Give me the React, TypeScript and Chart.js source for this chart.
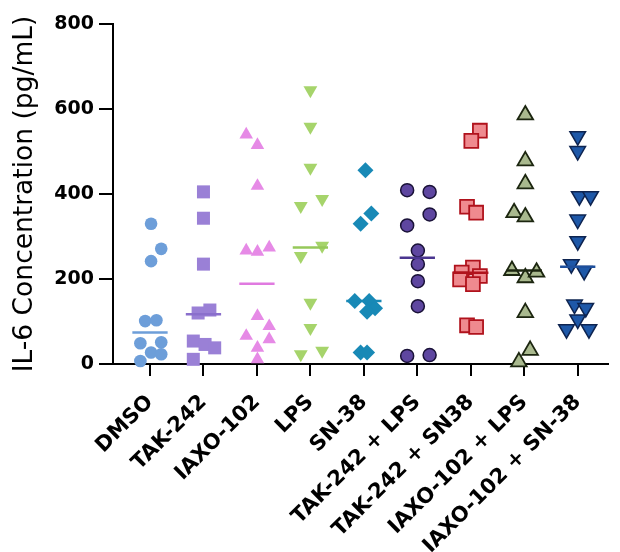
import React, { useEffect, useRef } from "react";
import { Chart, registerables } from "chart.js";

Chart.register(...registerables);

const CATEGORIES = [
  "DMSO",
  "TAK-242",
  "IAXO-102",
  "LPS",
  "SN-38",
  "TAK-242 + LPS",
  "TAK-242 + SN38",
  "IAXO-102 + LPS",
  "IAXO-102 + SN-38",
];

const Y_TICKS = [0, 200, 400, 600, 800];

// values (pg/mL) and horizontal jitter (in category units)
const DMSO_VALUES = [330, 271, 242, 101, 103, 49, 51, 27, 23, 7];
const DMSO_JITTER = [0.02, 0.21, 0.02, -0.09, 0.12, -0.18, 0.21, 0.02, 0.21, -0.18];

const TAK_VALUES = [405, 343, 235, 120, 127, 54, 46, 38, 11];
const TAK_JITTER = [0, 0, 0, -0.1, 0.12, -0.19, 0.03, 0.21, -0.19];

const IAXO_VALUES = [540, 515, 419, 267, 264, 274, 113, 89, 66, 38, 58, 11];
const IAXO_JITTER = [-0.2, 0.01, 0.01, -0.2, 0.01, 0.23, 0.01, 0.23, -0.2, 0.01, 0.23, 0.01];

const LPS_VALUES = [644, 558, 462, 372, 388, 254, 278, 144, 85, 23, 31];
const LPS_JITTER = [0, 0, 0, -0.18, 0.22, -0.18, 0.22, 0, 0, -0.18, 0.22];

const SN38_VALUES = [456, 354, 330, 148, 148, 131, 123, 27, 27];
const SN38_JITTER = [0.03, 0.14, -0.06, -0.17, 0.1, 0.21, 0.06, -0.06, 0.06];

const TAK_LPS_VALUES = [409, 405, 352, 326, 267, 235, 195, 136, 19, 21];
const TAK_LPS_JITTER = [-0.19, 0.23, 0.23, -0.19, 0.01, 0.01, 0.01, 0.01, -0.19, 0.23];

const TAK_SN38_VALUES = [549, 525, 370, 356, 227, 215, 207, 199, 188, 91, 87];
const TAK_SN38_JITTER = [0.17, 0.01, -0.07, 0.1, 0.04, -0.17, 0.17, -0.2, 0.04, -0.07, 0.1];

const IAXO_LPS_VALUES = [586, 478, 424, 356, 346, 220, 203, 216, 121, 32, 5];
const IAXO_LPS_JITTER = [0.02, 0.02, 0.02, -0.19, 0.02, -0.23, 0.02, 0.23, 0.02, 0.11, -0.1];

const IAXO_SN38_VALUES = [536, 501, 395, 395, 340, 289, 235, 219, 140, 132, 105, 82, 82];
const IAXO_SN38_JITTER = [0, 0, 0.03, 0.24, 0, 0, -0.12, 0.12, -0.06, 0.15, 0, -0.21, 0.21];

const MEDIANS = [74, 117, 189, 274, 148, 250, 215, 220, 229];

const GROUPS = [
  { values: DMSO_VALUES, jitter: DMSO_JITTER, style: "circle", radius: 6.3, rot: 0, fill: "#6d9ed9", border: "#6d9ed9", bw: 0, line: "#6d9ed9" },
  { values: TAK_VALUES, jitter: TAK_JITTER, style: "rect", radius: 9.2, rot: 0, fill: "#9a80d6", border: "#9a80d6", bw: 0, line: "#8a6fcc" },
  { values: IAXO_VALUES, jitter: IAXO_JITTER, style: "triangle", radius: 7.8, rot: 0, fill: "#e68ae6", border: "#e68ae6", bw: 0, line: "#e07ae0" },
  { values: LPS_VALUES, jitter: LPS_JITTER, style: "triangle", radius: 8, rot: 180, fill: "#a6d46b", border: "#a6d46b", bw: 0, line: "#96c85a" },
  { values: SN38_VALUES, jitter: SN38_JITTER, style: "rectRot", radius: 8, rot: 0, fill: "#1889b6", border: "#1889b6", bw: 0, line: "#1889b6" },
  { values: TAK_LPS_VALUES, jitter: TAK_LPS_JITTER, style: "circle", radius: 6.5, rot: 0, fill: "#5e46a0", border: "#1a1238", bw: 1.5, line: "#4a3590" },
  { values: TAK_SN38_VALUES, jitter: TAK_SN38_JITTER, style: "rect", radius: 9.8, rot: 0, fill: "#ef8a8f", border: "#b0121c", bw: 1.8, line: "#b0121c" },
  { values: IAXO_LPS_VALUES, jitter: IAXO_LPS_JITTER, style: "triangle", radius: 9, rot: 0, fill: "#a9b98e", border: "#1c2610", bw: 1.8, line: "#1c2610" },
  { values: IAXO_SN38_VALUES, jitter: IAXO_SN38_JITTER, style: "triangle", radius: 9, rot: 180, fill: "#1e58a8", border: "#0e2450", bw: 1.5, line: "#1e4f9c" },
];

const FONT = "'DejaVu Sans', sans-serif";

export default function App() {
  const ref = useRef<HTMLCanvasElement | null>(null);

  useEffect(() => {
    if (!ref.current) return;
    const datasets: any[] = [];
    GROUPS.forEach((g, i) => {
      datasets.push({
        type: "line",
        data: [
          { x: i - 0.33, y: MEDIANS[i] },
          { x: i + 0.33, y: MEDIANS[i] },
        ],
        borderColor: g.line,
        borderWidth: 2.5,
        pointRadius: 0,
        showLine: true,
        fill: false,
        order: 0,
        clip: false,
      });
    });
    GROUPS.forEach((g, i) => {
      datasets.push({
        type: "scatter",
        data: g.values.map((v, k) => ({ x: i + g.jitter[k], y: v })),
        pointStyle: g.style,
        pointRadius: g.radius,
        pointRotation: g.rot,
        pointBackgroundColor: g.fill,
        pointBorderColor: g.border,
        pointBorderWidth: g.bw,
        backgroundColor: g.fill,
        borderColor: g.border,
        showLine: false,
        order: 1,
        clip: false,
      });
    });

    const chart = new Chart(ref.current, {
      type: "scatter",
      data: { datasets },
      options: {
        animation: false,
        responsive: false,
        events: [],
        layout: { padding: { top: 24, right: 2, left: 0, bottom: 0 } },
        plugins: { legend: { display: false }, tooltip: { enabled: false } },
        scales: {
          x: {
            type: "linear",
            min: -0.692,
            max: 8.574,
            afterBuildTicks: (s: any) => {
              s.ticks = CATEGORIES.map((_, i) => ({ value: i }));
            },
            afterFit: (s: any) => {
              s.height = 552 - 364;
            },
            ticks: {
              autoSkip: false,
              minRotation: 45,
              maxRotation: 45,
              padding: 14,
              color: "#000",
              font: { family: FONT, size: 21, weight: "bold" },
              callback: (_v: any, idx: number) => CATEGORIES[idx],
            },
            grid: { drawOnChartArea: false, drawTicks: true, tickLength: 12, color: "#000", lineWidth: 2 },
            border: { display: true, color: "#000", width: 2 },
          },
          y: {
            type: "linear",
            min: 0,
            max: 800,
            afterBuildTicks: (s: any) => {
              s.ticks = Y_TICKS.map((v) => ({ value: v }));
            },
            afterFit: (s: any) => {
              s.width = 113;
            },
            ticks: {
              padding: 5,
              color: "#000",
              font: { family: FONT, size: 19, weight: "bold" },
            },
            grid: { drawOnChartArea: false, drawTicks: true, tickLength: 14, color: "#000", lineWidth: 2 },
            border: { display: true, color: "#000", width: 2 },
            title: {
              display: true,
              text: "IL-6 Concentration (pg/mL)",
              color: "#000",
              font: { family: FONT, size: 26.5, weight: "normal" },
              padding: { top: 9.6, bottom: 0 },
            },
          },
        },
      },
    });
    return () => chart.destroy();
  }, []);

  return (
    <div style={{ position: "absolute", left: 0, top: 0, width: 620, height: 552 }}>
      <canvas ref={ref} width={620} height={552} style={{ width: 620, height: 552, display: "block" }} />
    </div>
  );
}
